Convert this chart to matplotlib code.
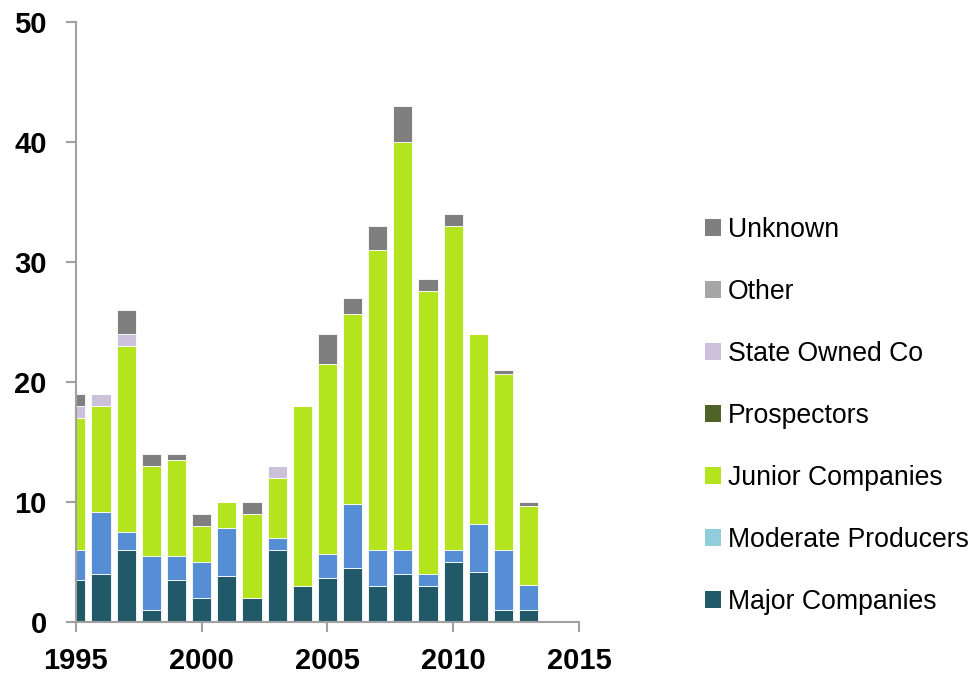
import matplotlib
matplotlib.use('Agg')
import matplotlib.pyplot as plt
from matplotlib.patches import Patch
from matplotlib import font_manager
import numpy as np

years = [1995, 1996, 1997, 1998, 1999, 2000, 2001, 2002, 2003, 2004,
         2005, 2006, 2007, 2008, 2009, 2010, 2011, 2012, 2013]
major = [3.5, 4, 6, 1, 3.5, 2, 3.8, 2, 6, 3, 3.7, 4.5, 3, 4, 3, 5, 4.2, 1, 1]
moderate = [2.5, 5.2, 1.5, 4.5, 2, 3, 4, 0, 1, 0, 2, 5.3, 3, 2, 1, 1, 4, 5, 2.1]
junior = [11, 8.8, 15.5, 7.5, 8, 3, 2.2, 7, 5, 15, 15.8, 15.9, 25, 34, 23.6, 27, 15.8, 14.7, 6.6]
prospectors = [0] * 19
state = [1, 1, 1, 0, 0, 0, 0, 0, 1, 0, 0, 0, 0, 0, 0, 0, 0, 0, 0]
other = [0] * 19
unknown = [1, 0, 2, 1, 0.5, 1, 0, 1, 0, 0, 2.5, 1.3, 2, 3, 1, 1, 0, 0.3, 0.3]

names = ['Major Companies', 'Moderate Producers', 'Junior Companies', 'Prospectors',
         'State Owned Co', 'Other', 'Unknown']
series = [major, moderate, junior, prospectors, state, other, unknown]
bar_colors = ['#215968', '#558ED5', '#B4E41E', '#4F6228', '#CCC1DA', '#A6A6A6', '#7F7F7F']
legend_colors = ['#215968', '#92CDDC', '#B4E41E', '#4F6228', '#CCC1DA', '#A6A6A6', '#7F7F7F']

# шрифт: узкий, если есть
installed = {f.name for f in font_manager.fontManager.ttflist}
narrow = 'Liberation Sans Narrow' in installed
leg_font = 'Liberation Sans Narrow' if narrow else 'Liberation Sans'
leg_size = 22.5 if narrow else 19.2
leg_space = 0.9 if narrow else 1.35

fig = plt.figure(figsize=(9.73, 6.79), dpi=100)
ax = fig.add_axes([0.078, 0.084, 0.517, 0.8836])

bottom = np.zeros(len(years))
for vals, col in zip(series, bar_colors):
    v = np.array(vals, dtype=float)
    ax.bar(years, v, bottom=bottom, width=0.76, color=col, edgecolor='white', linewidth=0.6)
    bottom += v

ax.set_xlim(1995, 2015)
ax.set_ylim(0, 50)
ax.set_xticks([1995, 2000, 2005, 2010, 2015])
ax.set_yticks([0, 10, 20, 30, 40, 50])
for s in ['top', 'right']:
    ax.spines[s].set_visible(False)
for s in ['left', 'bottom']:
    ax.spines[s].set_color('#A0A0A0')
    ax.spines[s].set_linewidth(1.5)
ax.tick_params(axis='both', color='#A0A0A0', width=1.5, length=7)
ax.tick_params(axis='y', pad=14)
ax.tick_params(axis='x', pad=11)
for lab in ax.get_xticklabels() + ax.get_yticklabels():
    lab.set_fontfamily('Liberation Sans')
    lab.set_fontweight('bold')
    lab.set_fontsize(21)

handles = [Patch(facecolor=c, edgecolor='none') for c in legend_colors[::-1]]
fig.legend(handles, names[::-1], loc='center left', bbox_to_anchor=(0.7246, 0.387),
           frameon=False, borderpad=0, borderaxespad=0,
           handlelength=0.6, handleheight=0.62, handletextpad=0.25,
           labelspacing=leg_space, prop={'family': leg_font, 'size': leg_size})

fig.savefig('out.png', dpi=100)
